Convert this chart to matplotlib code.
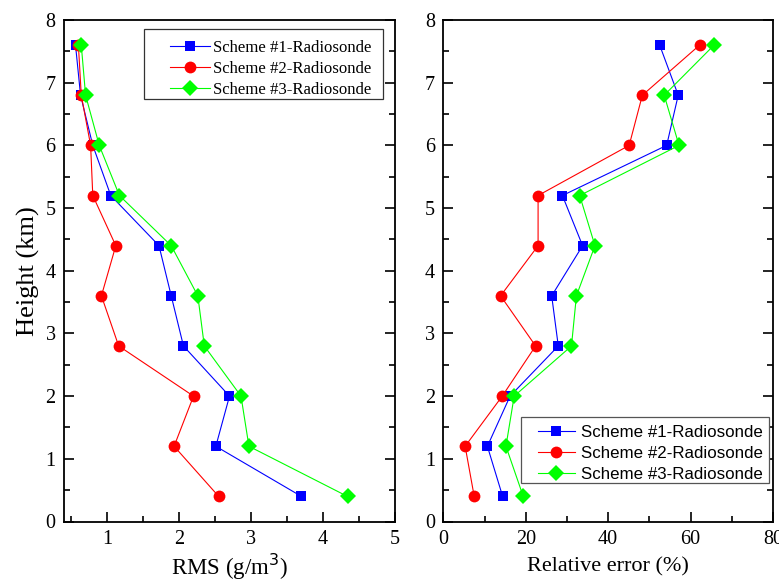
import matplotlib
matplotlib.use("Agg")
import matplotlib.pyplot as plt
from matplotlib.ticker import MultipleLocator
from matplotlib.patches import Rectangle

heights = [7.6, 6.8, 6.0, 5.2, 4.4, 3.6, 2.8, 2.0, 1.2, 0.4]

rms_s1 = [0.56, 0.63, 0.80, 1.05, 1.72, 1.89, 2.06, 2.70, 2.51, 3.70]
rms_s2 = [0.60, 0.64, 0.77, 0.80, 1.12, 0.92, 1.16, 2.20, 1.93, 2.55]
rms_s3 = [0.64, 0.70, 0.89, 1.17, 1.89, 2.26, 2.35, 2.86, 2.97, 4.34]

rel_s1 = [52.5, 57.0, 54.2, 28.9, 33.8, 26.3, 27.9, 16.2, 10.7, 14.4]
rel_s2 = [62.2, 48.3, 45.1, 23.0, 23.0, 13.9, 22.4, 14.3, 5.3, 7.5]
rel_s3 = [65.7, 53.6, 57.2, 33.1, 36.8, 32.3, 31.1, 17.2, 15.2, 19.4]

labels = ["Scheme #1-Radiosonde", "Scheme #2-Radiosonde", "Scheme #3-Radiosonde"]
colors = ["#0000FF", "#FF0000", "#00FF00"]
markers = ["s", "o", "D"]
msizes = [7.2, 8.5, 8]

serif = ["Liberation Serif", "DejaVu Serif"]
sans = ["Liberation Sans", "DejaVu Sans"]

W, H = 779, 584
fig = plt.figure(figsize=(W / 100, H / 100), dpi=100)
ax1 = fig.add_axes([64 / W, 1 - 521.5 / H, (395 - 64) / W, (521.5 - 20) / H])
ax2 = fig.add_axes([443.3 / W, 1 - 521.5 / H, (773 - 443.3) / W, (521.5 - 20) / H])

handles = {}
for ax, series, xlim, xmaj, xmin in [
    (ax1, [rms_s1, rms_s2, rms_s3], (0.4, 5), 1, 0.5),
    (ax2, [rel_s1, rel_s2, rel_s3], (0, 80), 20, 10),
]:
    hs = []
    for vals, lab, c, m, ms in zip(series, labels, colors, markers, msizes):
        h, = ax.plot(vals, heights, color=c, marker=m, markersize=ms, lw=0.8,
                     markeredgewidth=0, label=lab, clip_on=False)
        hs.append(h)
    handles[ax] = hs
    ax.set_xlim(*xlim)
    ax.set_ylim(0, 8)
    ax.xaxis.set_major_locator(MultipleLocator(xmaj))
    ax.xaxis.set_minor_locator(MultipleLocator(xmin))
    ax.yaxis.set_major_locator(MultipleLocator(1))
    ax.yaxis.set_minor_locator(MultipleLocator(0.5))
    ax.tick_params(which="both", direction="in", top=False, right=True,
                   width=1.2, labelsize=14.5, pad=6)
    ax.tick_params(which="major", length=7)
    ax.tick_params(which="minor", length=4)
    for lab in ax.get_xticklabels() + ax.get_yticklabels():
        lab.set_family(serif)
    for sp in ax.spines.values():
        sp.set_linewidth(1.3)

ax1.set_xlabel("RMS (g/m$^3$)", family=serif, fontsize=16.5, labelpad=2)
ax1.set_ylabel("Height (km)", family=serif, fontsize=19, labelpad=4)
ax2.set_xlabel("Relative error (%)", family=serif, fontsize=16, labelpad=6)

# legend frames (figure pixel boxes)
def frame(x0, y0, x1, y1, ec):
    r = Rectangle((x0 / W, 1 - y1 / H), (x1 - x0) / W, (y1 - y0) / H,
                  transform=fig.transFigure, facecolor="white", edgecolor=ec,
                  linewidth=0.9, zorder=1)
    fig.add_artist(r)

frame(144, 29, 383, 99, "#333333")
frame(521, 417, 769, 483, "#555555")

fig.legend(handles=handles[ax1], loc="center left",
           bbox_to_anchor=(170 / W, 1 - 69 / H),
           prop={"family": serif, "size": 12.1}, frameon=False,
           handlelength=2.38, handletextpad=0.2, borderpad=0,
           borderaxespad=0, labelspacing=0.28)

fig.legend(handles=handles[ax2], loc="center left",
           bbox_to_anchor=(537.7 / W, 1 - 453.3 / H),
           prop={"family": sans, "size": 12.2}, frameon=False,
           handlelength=2.2, handletextpad=0.36, borderpad=0,
           borderaxespad=0, labelspacing=0.34)

fig.savefig("out.png", dpi=100)
